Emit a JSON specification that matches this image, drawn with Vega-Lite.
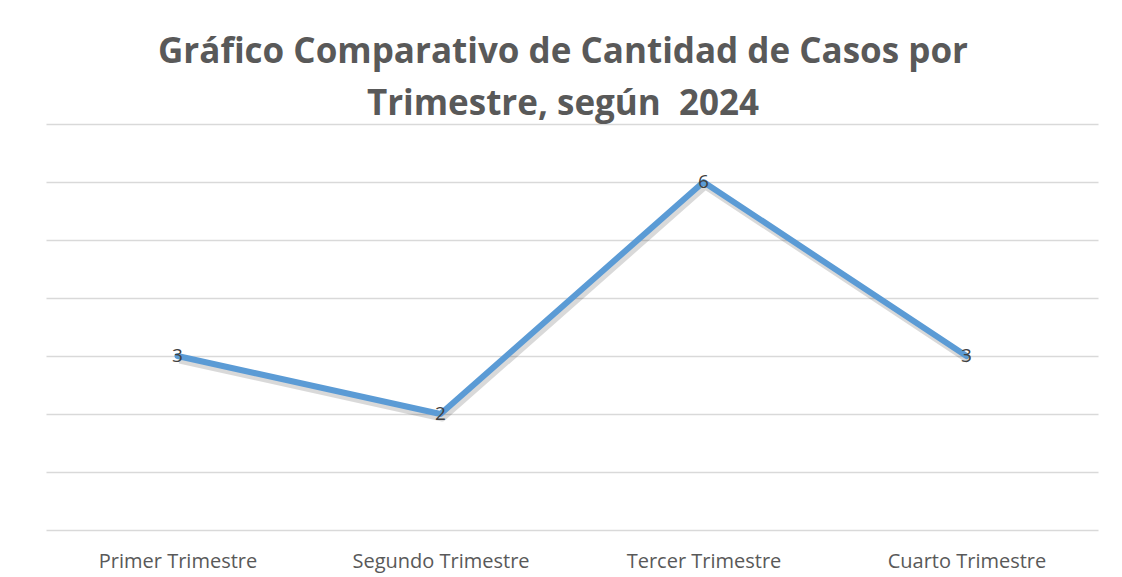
{
  "$schema": "https://vega.github.io/schema/vega-lite/v6.json",
  "width": 1052,
  "height": 406,
  "autosize": {"type": "none"},
  "padding": {"left": 46, "right": 24, "top": 124, "bottom": 47},
  "background": "white",
  "title": {
    "text": ["Gráfico Comparativo de Cantidad de Casos por", "Trimestre, según \u00a02024"],
    "anchor": "middle",
    "frame": "group",
    "font": "Open Sans",
    "fontSize": 35,
    "fontWeight": "bold",
    "color": "#595959",
    "lineHeight": 52,
    "offset": 2,
    "dx": -9
  },
  "config": {
    "view": {"stroke": null},
    "font": "Open Sans"
  },
  "data": {
    "values": [
      {"trimestre": "Primer Trimestre", "casos": 3},
      {"trimestre": "Segundo Trimestre", "casos": 2},
      {"trimestre": "Tercer Trimestre", "casos": 6},
      {"trimestre": "Cuarto Trimestre", "casos": 3}
    ]
  },
  "encoding": {
    "x": {
      "field": "trimestre",
      "type": "nominal",
      "sort": null,
      "scale": {"paddingInner": 0, "paddingOuter": 0},
      "axis": {
        "title": null,
        "labelAngle": 0,
        "domain": false,
        "ticks": false,
        "labelColor": "#595959",
        "labelFontSize": 20,
        "labelFont": "Open Sans",
        "labelPadding": 21,
        "labelBaseline": "top"
      }
    },
    "y": {
      "field": "casos",
      "type": "quantitative",
      "scale": {"domain": [0, 7], "nice": false},
      "axis": {
        "title": null,
        "labels": false,
        "ticks": false,
        "domain": false,
        "values": [0, 1, 2, 3, 4, 5, 6, 7],
        "gridColor": "#d9d9d9",
        "gridWidth": 1.5
      }
    }
  },
  "layer": [
    {
      "mark": {"type": "line", "color": "#000000", "strokeWidth": 7, "opacity": 0.15, "xOffset": 2, "yOffset": 4, "strokeJoin": "round"}
    },
    {
      "mark": {"type": "line", "color": "#5B9BD5", "strokeWidth": 6, "strokeJoin": "round", "strokeCap": "round"}
    },
    {
      "mark": {"type": "text", "color": "#404040", "fontSize": 19, "baseline": "middle", "align": "center", "font": "Open Sans"},
      "encoding": {"text": {"field": "casos", "type": "quantitative"}}
    }
  ]
}
